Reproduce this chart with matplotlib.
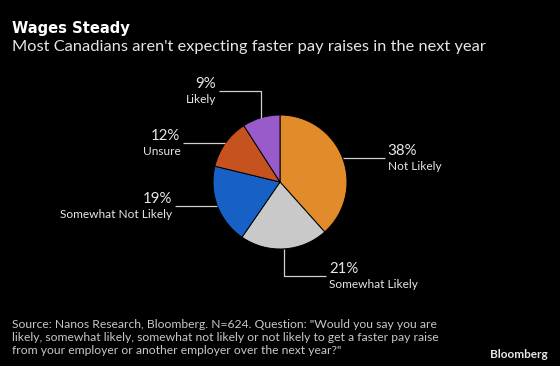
import matplotlib
matplotlib.use("Agg")
import matplotlib.pyplot as plt
import numpy as np

# ---- data ----
categories = ["Not Likely", "Somewhat Likely", "Somewhat Not Likely", "Unsure", "Likely"]
values = [38, 21, 19, 12, 9]
value_labels = ["38%", "21%", "19%", "12%", "9%"]
colors = ["#E18B2B", "#C9C9C9", "#1761C6", "#C6521F", "#995ACA"]

title = "Wages Steady"
subtitle = "Most Canadians aren't expecting faster pay raises in the next year"
footnote_lines = [
    'Source: Nanos Research, Bloomberg. N=624. Question: "Would you say you are',
    'likely, somewhat likely, somewhat not likely or not likely to get a faster pay raise',
    'from your employer or another employer over the next year?"',
]

# leader routing per slice: 'h' = straight horizontal, 'up'/'down' = vertical then horizontal
routing = ["h", "down", "h", "h", "up"]

W, H = 560, 366
fig = plt.figure(figsize=(W / 100, H / 100), dpi=100, facecolor="black")
ax = fig.add_axes([0, 0, 1, 1])
ax.set_facecolor("black")

cx, cy, R = 280, H - 182, 67
wedges, _ = ax.pie(values, colors=colors, startangle=90, counterclock=False,
                   center=(cx, cy), radius=R,
                   wedgeprops=dict(edgecolor="black", linewidth=0.7))
ax.set_xlim(0, W)
ax.set_ylim(0, H)
ax.set_aspect("auto")
ax.axis("off")

txt_col = "#E6E6E6"
num_font = ["Lato", "DejaVu Sans"]
lab_font = ["Lato", "DejaVu Sans"]
line_col = "#CFCFCF"
HL, VL, GAP = 42, 27, 3

for w, num, lab, route in zip(wedges, value_labels, categories, routing):
    ang = np.deg2rad((w.theta1 + w.theta2) / 2)
    px, py = cx + R * np.cos(ang), cy + R * np.sin(ang)
    side = 1 if np.cos(ang) >= 0 else -1
    xs, ys = [px], [py]
    if route == "up":
        ys.append(py + VL); xs.append(px)
    elif route == "down":
        ys.append(py - VL); xs.append(px)
    xs.append(xs[-1] + side * HL); ys.append(ys[-1])
    ax.plot(xs, ys, color=line_col, lw=0.9, solid_capstyle="butt")
    tx = xs[-1] + side * GAP
    ha = "left" if side > 0 else "right"
    ax.text(tx, ys[-1] + 3, num, ha=ha, va="baseline", color=txt_col,
            fontsize=10.8, family=num_font)
    ax.text(tx, ys[-1] - 3, lab, ha=ha, va="top", color=txt_col,
            fontsize=8.6, family=lab_font)

ax.text(12, H - 33.5, title, ha="left", va="baseline", color="white",
        fontsize=10.6, fontweight="bold", family=["DejaVu Sans"])
ax.text(12, H - 51, subtitle, ha="left", va="baseline", color=txt_col,
        fontsize=11.8, family=lab_font)
for i, line in enumerate(footnote_lines):
    ax.text(12, H - 328.3 - 13 * i, line, ha="left", va="baseline", color="#C8C8C8",
            fontsize=8.7, family=lab_font)
ax.text(548, H - 358.5, "Bloomberg", ha="right", va="baseline", color="#E6E6E6",
        fontsize=8.5, fontweight="bold", family=lab_font)

fig.savefig("out.png", dpi=100, facecolor="black")
